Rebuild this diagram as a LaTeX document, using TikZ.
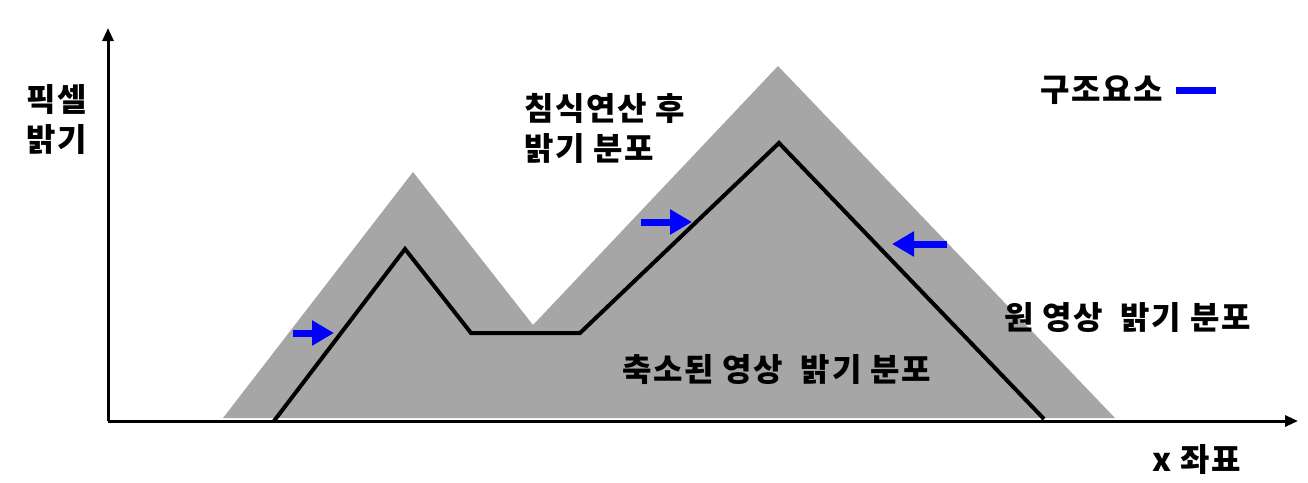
\documentclass[tikz,border=0pt]{standalone}
\usepackage{fontspec}
\setmainfont{Noto Sans CJK KR}[LetterSpace=5]
\usetikzlibrary{arrows.meta}
\definecolor{grisfond}{HTML}{A6A6A6}
\tikzset{
	axe/.style={line width=3pt, -{Triangle[length=13pt,width=11pt]}},
	courbe/.style={line width=4pt},
	fleche/.style={blue, line width=7pt, -{Triangle[length=22pt,width=24pt]}},
	etiquette/.style={font=\fontsize{32}{40}\selectfont\bfseries, inner sep=0pt},
}
\begin{document}
\begin{tikzpicture}[x=1pt, y=-1pt]
	\useasboundingbox (0,0) rectangle (1308,482);
	\coordinate (O) at (108,421);
	\coordinate (Y) at (108,28);
	\coordinate (X) at (1298,421);
	\fill[grisfond] (223,418) -- (413,172) -- (533,325) -- (778,66) -- (1115,418) -- cycle;
	\draw[axe] (O) -- (Y);
	\draw[axe] (O) -- (X);
	\draw[courbe] (274,421) -- (405,249) -- (471,333) -- (580,333) -- (779,143) -- (1044,419);
	\draw[fleche] (293,333) -- (334,333);
	\draw[fleche] (641,222) -- (692,222);
	\draw[fleche] (947,244) -- (892,244);
	\draw[blue, line width=7pt] (1176,90) -- (1216,90);
	%décorations
	\node[etiquette, align=center] (lumi) at (57,120) {픽셀\\밝기};
	\node[etiquette, align=left, anchor=west] (apres) at (524,128) {침식연산 후\\밝기 분포};
	\node[etiquette, anchor=west] (orig) at (1004,318) {원 영상~ 밝기 분포};
	\node[etiquette, anchor=west] (reduit) at (622,370) {축소된 영상~ 밝기 분포};
	\node[etiquette, anchor=east] (elem) at (1163,90) {구조요소};
	\node[etiquette, anchor=west] (abs) at (1152,459) {x 좌표};
\end{tikzpicture}
\end{document}
